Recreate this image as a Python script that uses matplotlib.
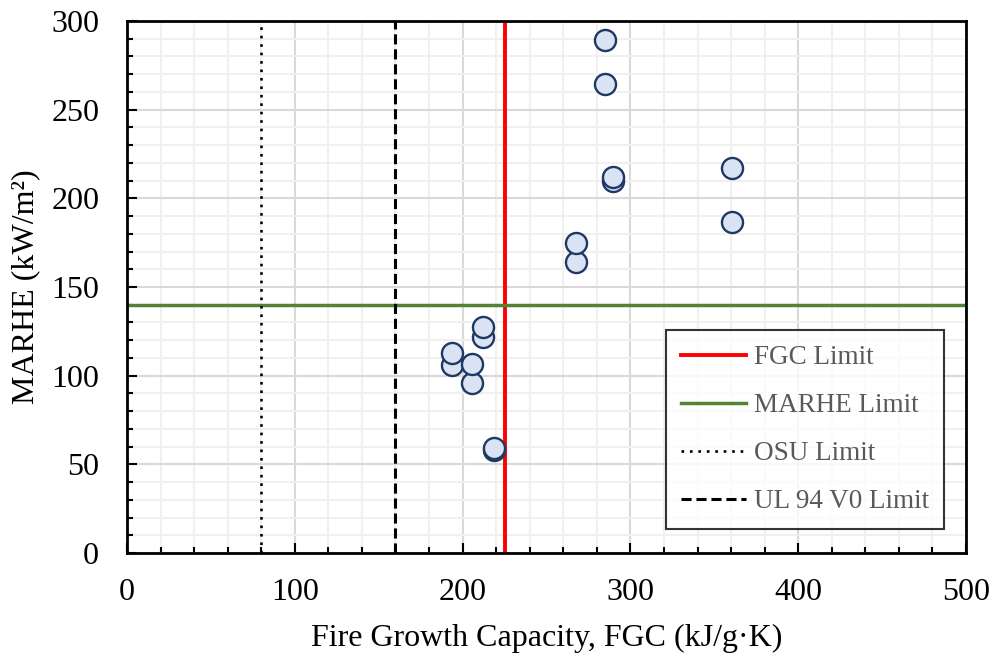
import matplotlib
matplotlib.use("Agg")
import matplotlib.pyplot as plt
from matplotlib.ticker import MultipleLocator

# FGC (kJ/g·K) vs MARHE (kW/m²) per sample
fgc = [193.9, 193.9, 205.8, 205.8, 212.3, 212.3, 218.7, 218.7,
       267.6, 267.6, 285.0, 285.0, 289.8, 289.8, 360.5, 360.5]
marhe = [106.0, 112.6, 95.9, 106.6, 122.0, 127.6, 58.1, 59.0,
         164.1, 174.6, 264.3, 289.3, 209.8, 212.2, 186.5, 217.3]

fgc_limit = 225
marhe_limit = 140
osu_limit = 80
ul94_limit = 160

plt.rcParams['font.family'] = ['Liberation Serif', 'DejaVu Serif']

fig = plt.figure(figsize=(9.94, 6.54), dpi=100)
ax = fig.add_axes([127 / 994, 1 - 553 / 654, 839 / 994, 532 / 654])

ax.set_xlim(0, 500)
ax.set_ylim(0, 300)
ax.xaxis.set_major_locator(MultipleLocator(100))
ax.xaxis.set_minor_locator(MultipleLocator(20))
ax.yaxis.set_major_locator(MultipleLocator(50))
ax.yaxis.set_minor_locator(MultipleLocator(10))

ax.grid(which='minor', color='#f0f0f0', lw=1.5, zorder=0)
ax.grid(which='major', color='#d9d9d9', lw=1.5, zorder=0)
ax.set_axisbelow(True)

ax.tick_params(which='both', direction='in', top=False, right=False,
               color='black', width=1.5)
ax.tick_params(which='major', length=7, labelsize=23)
ax.tick_params(which='minor', length=4.5)
ax.tick_params(axis='x', which='major', pad=18)
ax.tick_params(axis='y', which='major', pad=20)
for side in ax.spines.values():
    side.set_linewidth(2)
    side.set_color('black')

ax.axvline(fgc_limit, color='#ff0000', lw=2.8, label='FGC Limit', zorder=2)
ax.axhline(marhe_limit, color='#548235', lw=2.5, label='MARHE Limit', zorder=2)
ax.axvline(osu_limit, color='black', lw=1.9, ls=(0, (1, 2.2)), label='OSU Limit', zorder=2)
ax.axvline(ul94_limit, color='black', lw=2.2, ls=(0, (3.3, 1.6)), label='UL 94 V0 Limit', zorder=2)

ax.scatter(fgc, marhe, s=230, facecolor='#dae3f3', edgecolor='#1f3864',
           linewidth=1.7, zorder=3)

ax.set_xlabel('Fire Growth Capacity, FGC (kJ/g·K)', fontsize=23, labelpad=12)
ax.set_ylabel('MARHE (kW/m²)', fontsize=23, labelpad=8)

leg = ax.legend(loc='lower right', bbox_to_anchor=(0.974, 0.045), fontsize=19.5,
                frameon=True, fancybox=False, edgecolor='black',
                handlelength=2.4, labelspacing=0.85, borderpad=0.55,
                handletextpad=0.3, borderaxespad=0)
leg.get_frame().set_linewidth(1.5)
for t in leg.get_texts():
    t.set_color('#595959')

fig.savefig('out.png', dpi=100)
